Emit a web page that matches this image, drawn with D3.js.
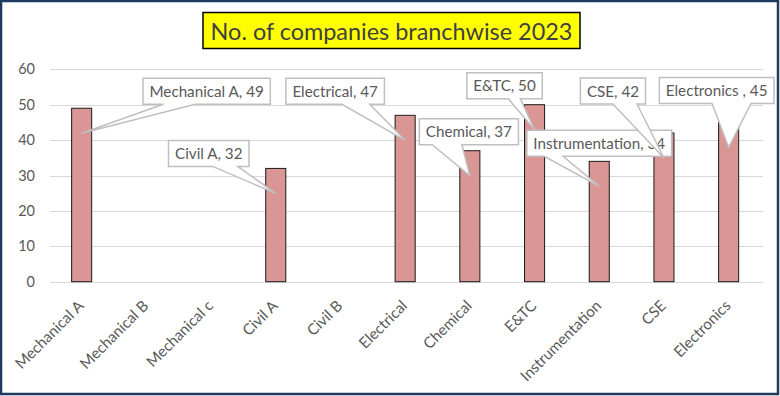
<!DOCTYPE html>
<html>
<head>
<meta charset="utf-8">
<script src="https://cdn.jsdelivr.net/npm/d3@7"></script>
<style>
  html, body { margin: 0; padding: 0; background: #fff; }
  svg { display: block; font-family: Lato, "Open Sans", sans-serif; }
</style>
</head>
<body>
<script>
// chart data
var branches = ["Mechanical A", "Mechanical B", "Mechanical c", "Civil A", "Civil B",
                "Electrical", "Chemical", "E&TC", "Instrumentation", "CSE", "Electronics"];
var companies = [49, null, null, 32, null, 47, 37, 50, 34, 42, 45];
var callText = ["Mechanical A, 49", null, null, "Civil A, 32", null, "Electrical, 47",
                "Chemical, 37", "E&TC, 50", "Instrumentation, 34", "CSE, 42", "Electronics , 45"];
var yTicks = [0, 10, 20, 30, 40, 50, 60];
var chartTitle = "No. of companies branchwise 2023";

// where each callout box sits relative to its bar top (dx, dy of box centre),
// and where the wedge leaves the box bottom (fractions of box width)
var callLayout = {
  "Mechanical A":    { dx: 125, dy: -17, f0: 0.16, f1: 0.41 },
  "Civil A":         { dx: -67, dy: -15, f0: 0.55, f1: 0.86 },
  "Electrical":      { dx: -70, dy: -24, f0: 0.57, f1: 0.85 },
  "Chemical":        { dx: -1,  dy: -19, f0: 0.13, f1: 0.43 },
  "E&TC":            { dx: -30, dy: -19, f0: 0.55, f1: 0.71 },
  "Instrumentation": { dx: 0,   dy: -18, f0: 0.12, f1: 0.25 },
  "CSE":             { dx: -51, dy: -42, f0: 0.50, f1: 0.87 },
  "Electronics":     { dx: -12, dy: -32, f0: 0.46, f1: 0.80 }
};

var W = 780, H = 396;
var svg = d3.select("body").append("svg").attr("width", W).attr("height", H);

svg.append("rect").attr("x", 1).attr("y", 1).attr("width", W - 3).attr("height", H - 3)
   .attr("fill", "#fff").attr("stroke", "#1f3a60").attr("stroke-width", 2.5);

var x = d3.scaleBand().domain(branches).range([49.3, 761]).paddingInner(0.69).paddingOuter(0.345);
var y = d3.scaleLinear().domain([0, 60]).range([281.7, 69.3]);

// gridlines
svg.append("g").selectAll("line").data(yTicks).enter().append("line")
   .attr("x1", 50).attr("x2", 763)
   .attr("y1", function(d) { return Math.round(y(d)) + 0.5; })
   .attr("y2", function(d) { return Math.round(y(d)) + 0.5; })
   .attr("stroke", "#d9d9d9").attr("stroke-width", 1);

// y axis labels
var yAxis = svg.append("g").attr("transform", "translate(35,0)")
   .call(d3.axisLeft(y).tickValues(yTicks).tickSize(0).tickPadding(0));
yAxis.select(".domain").remove();
yAxis.selectAll("text").attr("fill", "#595959").style("font-size", "14.5px")
     .style("font-family", "Lato, sans-serif");

// x axis labels, rotated
var xAxis = svg.append("g").attr("transform", "translate(0," + y(0) + ")")
   .call(d3.axisBottom(x).tickSize(0).tickPadding(0));
xAxis.select(".domain").remove();
var xl = xAxis.selectAll("text")
     .attr("fill", "#595959").style("font-family", "Lato, sans-serif")
     .style("font-size", "14px")
     .attr("text-anchor", "end")
     .attr("transform", "translate(3,25) rotate(-45)")
     .attr("dy", 0).attr("y", 0);
// size so "Instrumentation" runs about 107px like the reference
var instr = xl.filter(function(d) { return d === "Instrumentation"; }).node();
var xfs = 14 * 107 / instr.getComputedTextLength();
xl.style("font-size", xfs + "px");

// bars
var rows = branches.map(function(b, i) { return { name: b, value: companies[i], label: callText[i] }; })
                   .filter(function(d) { return d.value !== null; });

svg.append("g").selectAll("rect").data(rows).enter().append("rect")
   .attr("x", function(d) { return x(d.name); })
   .attr("y", function(d) { return y(d.value); })
   .attr("width", x.bandwidth())
   .attr("height", function(d) { return y(0) - y(d.value); })
   .attr("fill", "#d99694").attr("stroke", "#1a1a1a").attr("stroke-width", 1);

// callouts
var calls = svg.append("g");
rows.forEach(function(d) {
  var L = callLayout[d.name];
  var ax = x(d.name) + x.bandwidth() / 2, ay = y(d.value);
  var g = calls.append("g");
  var t = g.append("text").text(d.label).attr("fill", "#595959")
           .style("font-size", "15.2px").attr("text-anchor", "middle");
  var tw = t.node().getComputedTextLength();
  var bw = tw + 13, bh = 26;
  var cx = ax + L.dx, cy = ay + L.dy;
  var l = cx - bw / 2, r = cx + bw / 2, top = cy - bh / 2, bot = cy + bh / 2;
  var tipX = ax, tipY = ay + 25;
  var p = d3.path();
  p.moveTo(l, top); p.lineTo(r, top); p.lineTo(r, bot);
  p.lineTo(l + bw * L.f1, bot); p.lineTo(tipX, tipY); p.lineTo(l + bw * L.f0, bot);
  p.lineTo(l, bot); p.closePath();
  g.insert("path", "text").attr("d", p.toString())
   .attr("fill", "#fff").attr("stroke", "#bfbfbf").attr("stroke-width", 1.5)
   .attr("stroke-linejoin", "miter");
  t.attr("x", cx).attr("y", cy + 5.5);
});

// title
var tg = svg.append("g");
var tt = tg.append("text").text(chartTitle).attr("fill", "#404040")
           .style("font-size", "24px").attr("text-anchor", "middle")
           .attr("x", 391.5).attr("y", 39.5);
var ttw = tt.node().getComputedTextLength();
tt.style("font-size", (24 * 362 / ttw) + "px");
tg.insert("rect", "text").attr("x", 203).attr("y", 12.5).attr("width", 377).attr("height", 36)
  .attr("fill", "#ffff00").attr("stroke", "#000").attr("stroke-width", 1.5);
</script>
</body>
</html>
